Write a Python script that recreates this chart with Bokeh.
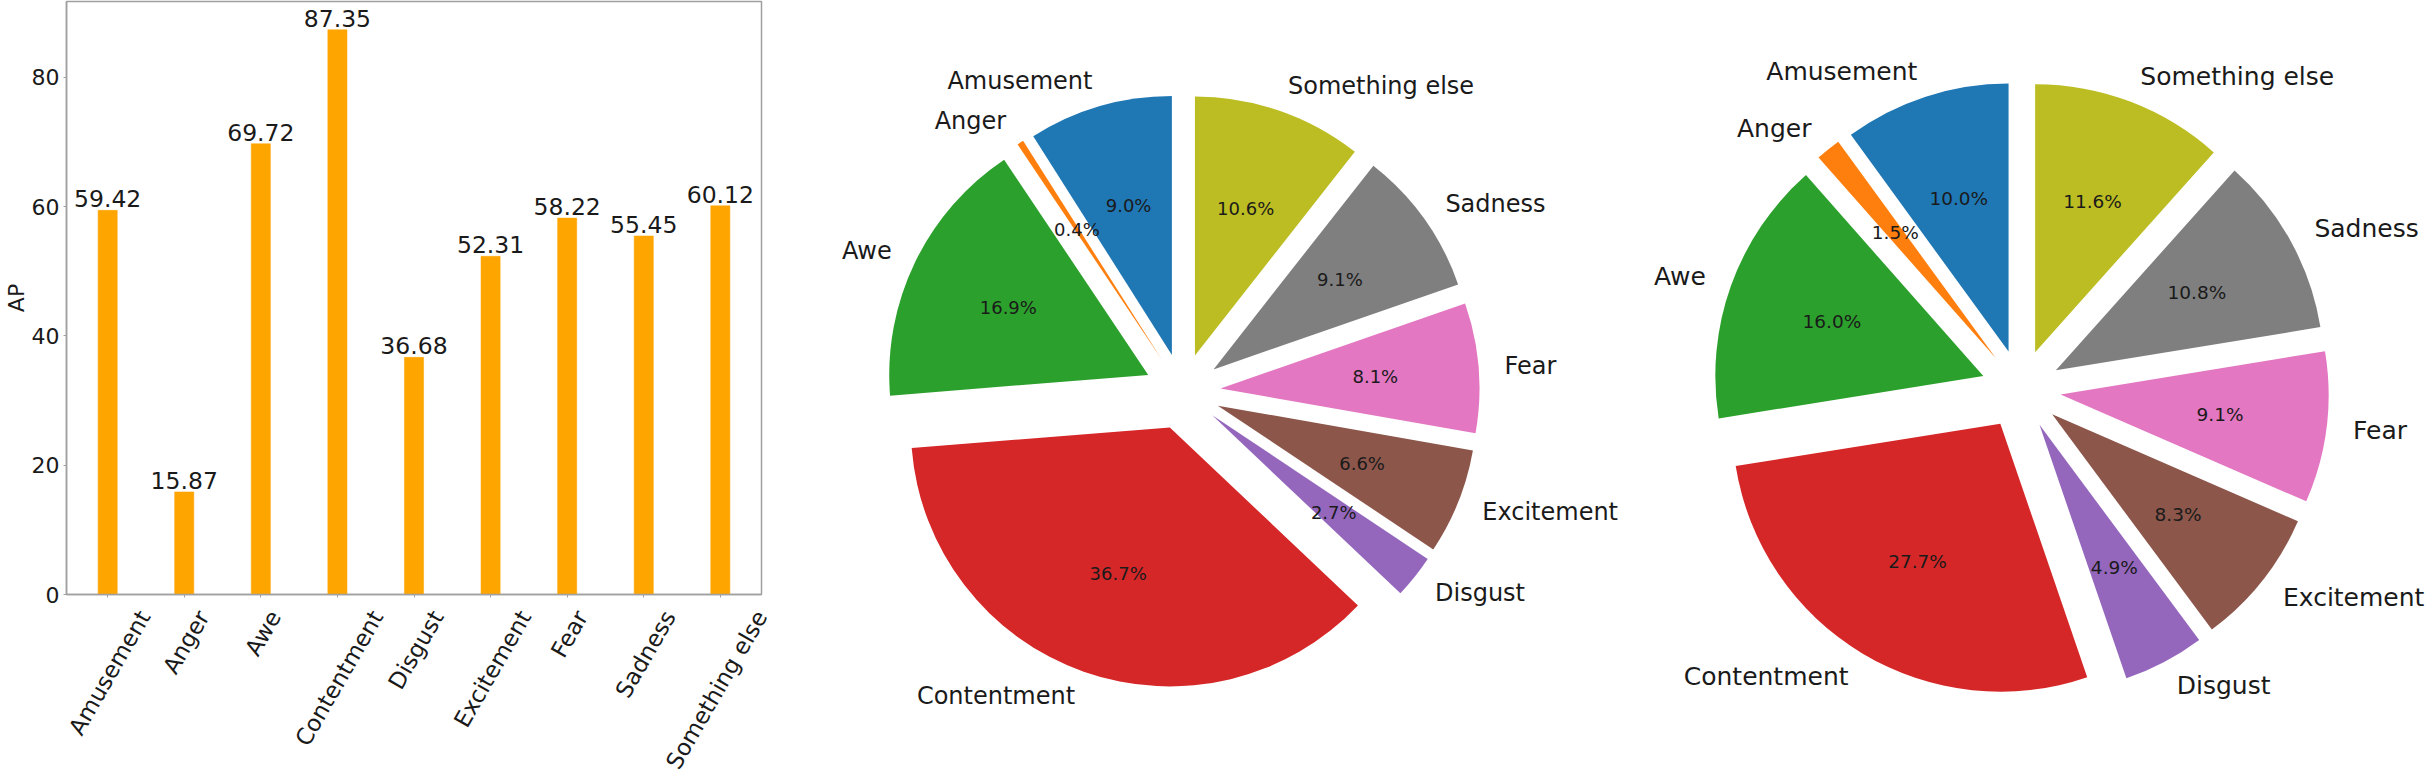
import math
from bokeh.plotting import figure
from bokeh.models import (Range1d, FixedTicker, ColumnDataSource, LinearAxis,
                          CustomJSTickFormatter)
from bokeh.layouts import row
from bokeh.embed import file_html
from bokeh.resources import INLINE
from bokeh.core.properties import value

# ---------------- data ----------------
categories = ["Amusement", "Anger", "Awe", "Contentment", "Disgust",
              "Excitement", "Fear", "Sadness", "Something else"]
ap_values = [59.42, 15.87, 69.72, 87.35, 36.68, 52.31, 58.22, 55.45, 60.12]
y_ticks = [0, 20, 40, 60, 80]
pie1_pct = [9.0, 0.4, 16.9, 36.7, 2.7, 6.6, 8.1, 9.1, 10.6]
pie2_pct = [10.0, 1.5, 16.0, 27.7, 4.9, 8.3, 9.1, 10.8, 11.6]
pie_colors = ["#1f77b4", "#ff7f0e", "#2ca02c", "#d62728", "#9467bd",
              "#8c564b", "#e377c2", "#7f7f7f", "#bcbd22"]

# ---------------- layout constants ----------------
FONT = value("DejaVu Sans")
TXT = "#1a1a1a"
H = 782
W1 = 820
W2 = 2432 - W1

# DejaVu Sans advance widths (em) for the rotated tick labels
DW = {'A': 0.684, 'm': 0.974, 'u': 0.634, 's': 0.521, 'e': 0.615, 'n': 0.634,
      't': 0.392, 'g': 0.635, 'r': 0.411, 'w': 0.818, 'C': 0.698, 'o': 0.612,
      'D': 0.770, 'i': 0.278, 'E': 0.632, 'x': 0.592, 'c': 0.550, 'F': 0.575,
      'a': 0.613, 'S': 0.635, 'd': 0.635, 'h': 0.634, 'l': 0.278, ' ': 0.318}

# ---------------- bar chart ----------------
left = 63
right_border = W1 - 761
top = 1
bottom_border = 186
frame_w_est = W1 - left - right_border
n = len(categories)
xpad = 0.125 + 0.05 * (n - 1 + 0.25)
xspan = n - 1 + 2 * xpad
ymax = max(ap_values) * 1.05

p1 = figure(width=W1, height=H,
            x_range=Range1d(-xpad, n - 1 + xpad), y_range=Range1d(0, ymax),
            output_backend="svg", toolbar_location=None,
            min_border_left=left, min_border_right=right_border,
            min_border_top=top, min_border_bottom=bottom_border)
p1.background_fill_color = "white"
p1.border_fill_color = "white"
p1.grid.visible = False
p1.outline_line_color = "#a0a0a0"
p1.outline_line_width = 1.5

xs = list(range(n))
src = ColumnDataSource(dict(x=xs, top=ap_values, cat=categories,
                            lab=[f"{v:.2f}" for v in ap_values]))
p1.vbar(x="x", top="top", width=0.25, source=src, fill_color="#ffa500",
        line_color="#ffa500", line_width=0.5)
p1.text(x="x", y="top", text="lab", source=src, text_align="center",
        text_baseline="bottom", y_offset=-3, text_font=FONT,
        text_font_size="23.5px", text_color=TXT)

for ax in (p1.xaxis[0], p1.yaxis[0]):
    ax.axis_line_color = "#a0a0a0"
    ax.axis_line_width = 1.5
    ax.major_tick_line_color = "#a0a0a0"
    ax.major_tick_out = 3
    ax.major_tick_in = 0
    ax.minor_tick_line_color = None
    ax.major_label_text_font = "DejaVu Sans"
    ax.major_label_text_color = TXT

p1.yaxis.ticker = FixedTicker(ticks=y_ticks)
p1.yaxis.major_label_text_font_size = "22px"
p1.yaxis.major_label_standoff = 4
p1.yaxis.axis_label = "AP"
p1.yaxis.axis_label_text_font = "DejaVu Sans"
p1.yaxis.axis_label_text_font_style = "normal"
p1.yaxis.axis_label_text_font_size = "22px"
p1.yaxis.axis_label_text_color = TXT
p1.yaxis.axis_label_standoff = 0

# main x axis: tick marks only
p1.xaxis.ticker = FixedTicker(ticks=xs)
p1.xaxis.major_label_overrides = {i: "" for i in xs}
p1.xaxis.major_label_text_font_size = "0px"
p1.xaxis.major_label_standoff = 0

# second axis carrying the rotated category names (matplotlib-like centring)
fs_tick = 23.0
xend = n - 1 + xpad
shifted = []
for i, name in enumerate(categories):
    L = sum(DW.get(ch, 0.6) for ch in name) * fs_tick
    s = i + (L / 4.0 + 2.0) * xspan / frame_w_est
    shifted.append(min(s, xend - 0.003))
lab_axis = LinearAxis(
    ticker=FixedTicker(ticks=shifted),
    formatter=CustomJSTickFormatter(args=dict(names=categories),
                                    code="return names[index]"),
    axis_line_color=None, major_tick_line_color=None,
    minor_tick_line_color=None, major_tick_out=0, major_tick_in=0,
    major_label_orientation=math.pi / 3, major_label_standoff=15,
    major_label_text_font="DejaVu Sans", major_label_text_font_size="23px",
    major_label_text_color=TXT)
p1.add_layout(lab_axis, "below")

# ---------------- pies ----------------
p2 = figure(frame_width=W2, frame_height=H, x_range=Range1d(0, W2),
            y_range=Range1d(0, H), output_backend="svg", toolbar_location=None,
            min_border=0, min_border_left=0, min_border_right=0,
            min_border_top=0, min_border_bottom=0,
            x_axis_type=None, y_axis_type=None)
p2.grid.visible = False
p2.outline_line_color = None
p2.background_fill_color = "white"
p2.border_fill_color = "white"

pies = [
    dict(pct=pie1_pct, cx=1182.0, cy=390.0, r=259.0, ex=0.147, lf="24px", pf="18px"),
    dict(pct=pie2_pct, cx=2020.4, cy=388.0, r=268.0, ex=0.149, lf="25px", pf="18.5px"),
]

for pie in pies:
    pct = pie["pct"]
    tot = sum(pct)
    X0 = pie["cx"] - W1
    Y0 = H - pie["cy"]
    r = pie["r"]
    a = math.pi / 2
    wx, wy, sa, ea = [], [], [], []
    lx_l, ly_l, lt_l = [], [], []
    lx_r, ly_r, lt_r = [], [], []
    px, py, pt = [], [], []
    for j, v in enumerate(pct):
        th = 2 * math.pi * v / tot
        mid = a + th / 2
        cxo = X0 + pie["ex"] * r * math.cos(mid)
        cyo = Y0 + pie["ex"] * r * math.sin(mid)
        wx.append(cxo); wy.append(cyo); sa.append(a); ea.append(a + th)
        lx = cxo + 1.1 * r * math.cos(mid)
        ly = cyo + 1.1 * r * math.sin(mid)
        if math.cos(mid) > 0:
            lx_l.append(lx); ly_l.append(ly); lt_l.append(categories[j])
        else:
            lx_r.append(lx); ly_r.append(ly); lt_r.append(categories[j])
        px.append(cxo + 0.6 * r * math.cos(mid))
        py.append(cyo + 0.6 * r * math.sin(mid))
        pt.append(f"{v:.1f}%")
        a += th
    p2.wedge(x=wx, y=wy, radius=r, start_angle=sa, end_angle=ea,
             direction="anticlock", fill_color=pie_colors, line_color=None)
    p2.text(x=lx_l, y=ly_l, text=lt_l, text_align="left", text_baseline="middle",
            text_font=FONT, text_font_size=pie["lf"], text_color=TXT)
    p2.text(x=lx_r, y=ly_r, text=lt_r, text_align="right", text_baseline="middle",
            text_font=FONT, text_font_size=pie["lf"], text_color=TXT)
    p2.text(x=px, y=py, text=pt, text_align="center", text_baseline="middle",
            text_font=FONT, text_font_size=pie["pf"], text_color=TXT)

layout = row(p1, p2)
open("out.html", "w").write(file_html(layout, INLINE))
